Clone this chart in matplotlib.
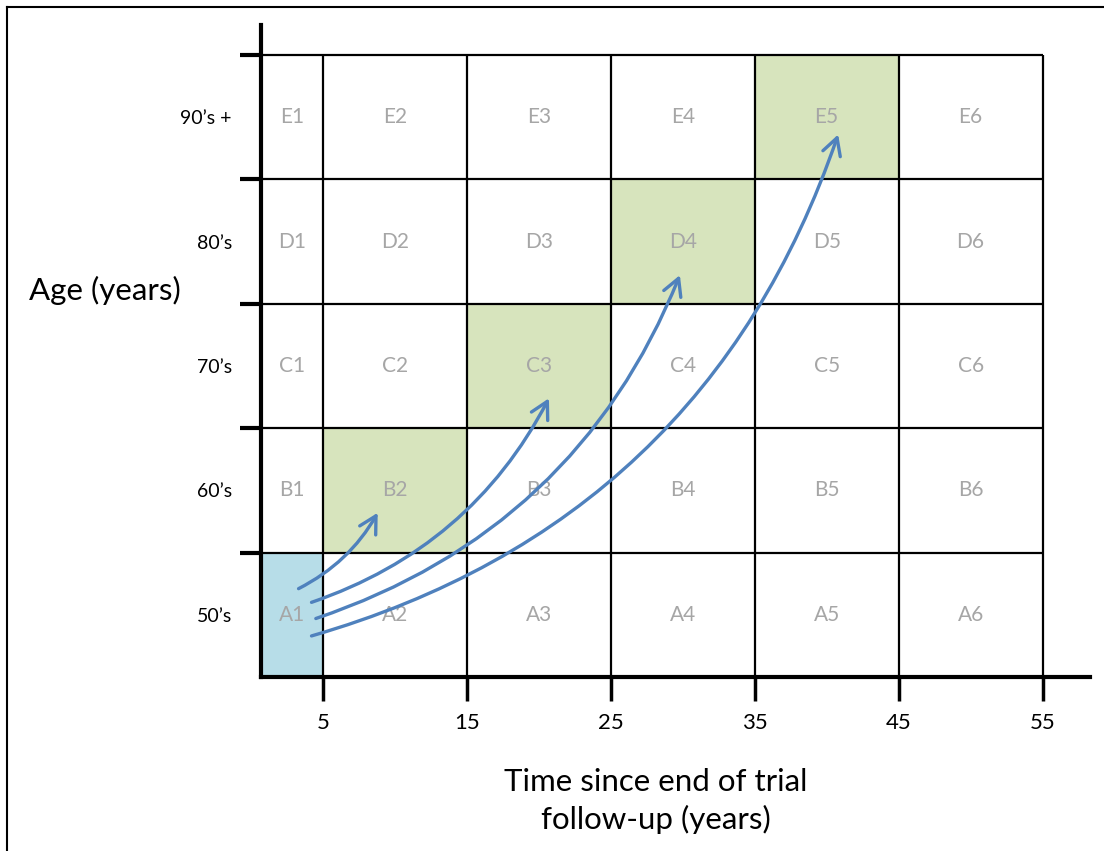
import matplotlib
matplotlib.use("Agg")
import matplotlib.pyplot as plt
from matplotlib.patches import Rectangle, FancyArrowPatch
from matplotlib.lines import Line2D

plt.rcParams['font.family'] = ['Lato', 'DejaVu Sans']

# ---- data ----
time_ticks = [5, 15, 25, 35, 45, 55]
age_groups = ["50\u2019s", "60\u2019s", "70\u2019s", "80\u2019s", "90\u2019s +"]
row_letters = ["A", "B", "C", "D", "E"]
col_numbers = [1, 2, 3, 4, 5, 6]
green_cells = [("B", 2), ("C", 3), ("D", 4), ("E", 5)]
blue_cells = [("A", 1)]
# arrows: (start time, start age-row pos, end time, end age-row pos)
arrow_starts_x = [3.3, 4.2, 4.5, 4.2]
arrow_starts_y = [0.71, 0.60, 0.47, 0.33]
arrow_ends_x = [8.8, 20.7, 29.8, 40.8]
arrow_ends_y = [1.32, 2.24, 3.23, 4.36]
arrow_rads = [0.15, 0.2, 0.23, 0.26]

XMIN, XMAX = 0.69, 58.3
YMIN, YMAX = 0.0, 5.24

fig = plt.figure(figsize=(11.04, 8.51), dpi=100)
ax = fig.add_axes([261/1104, 1-677/851, (1090-261)/1104, (677-25)/851])
ax.set_xlim(XMIN, XMAX)
ax.set_ylim(YMIN, YMAX)

col_edges = [XMIN] + time_ticks
nrows = len(age_groups)

# fills
for cells, color in [(green_cells, "#d7e4bd"), (blue_cells, "#b7dde8")]:
    for r, c in cells:
        ri = row_letters.index(r)
        ci = col_numbers.index(c)
        ax.add_patch(Rectangle((col_edges[ci], ri), col_edges[ci+1]-col_edges[ci], 1,
                               facecolor=color, edgecolor="none", zorder=1))

# grid lines
for x in time_ticks:
    ax.plot([x, x], [0, nrows], color="black", lw=1.6, zorder=2, solid_capstyle="butt")
for y in range(1, nrows + 1):
    ax.plot([XMIN, time_ticks[-1]], [y, y], color="black", lw=1.6, zorder=2, solid_capstyle="butt")

# cell labels
for ri, r in enumerate(row_letters):
    for ci, c in enumerate(col_numbers):
        xc = (col_edges[ci] + col_edges[ci+1]) / 2
        ax.text(xc, ri + 0.5, f"{r}{c}", ha="center", va="center",
                color="#a6a6a6", fontsize=15, zorder=3)

# arrows
for x0, y0, x1, y1, rad in zip(arrow_starts_x, arrow_starts_y, arrow_ends_x, arrow_ends_y, arrow_rads):
    arr = FancyArrowPatch((x0, y0), (x1, y1), connectionstyle=f"arc3,rad={rad}",
                          arrowstyle="->,head_length=0.55,head_width=0.3",
                          mutation_scale=22, color="#4f81bd", lw=2.4, zorder=4,
                          shrinkA=0, shrinkB=0)
    ax.add_patch(arr)

# spines
for s in ["top", "right"]:
    ax.spines[s].set_visible(False)
for s in ["left", "bottom"]:
    ax.spines[s].set_linewidth(3)
    ax.spines[s].set_zorder(5)

# ticks
ax.set_xticks(time_ticks)
ax.set_xticklabels([str(t) for t in time_ticks], fontsize=16)
ax.tick_params(axis="x", which="major", direction="out", length=17, width=2.5, pad=9)

ax.set_yticks(range(1, nrows + 1))
ax.set_yticklabels([])
ax.tick_params(axis="y", which="major", direction="out", length=15, width=3)
ax.set_yticks([i + 0.5 for i in range(nrows)], minor=True)
ax.set_yticklabels(age_groups, minor=True, fontsize=14)
ax.tick_params(axis="y", which="minor", length=0, pad=21)

# labels
fig.text(105/1104, 1-290/851, "Age (years)", ha="center", va="center", fontsize=22.5)
fig.text(656/1104, 1-801/851, "Time since end of trial\nfollow-up (years)",
         ha="center", va="center", fontsize=22.5, linespacing=1.4)

# outer frame
fig.add_artist(Line2D([7/1104, 7/1104], [0, 1-7/851], color="black", lw=1.5))
fig.add_artist(Line2D([7/1104, 1], [1-7/851, 1-7/851], color="black", lw=1.5))

fig.savefig("out.png", dpi=100)
